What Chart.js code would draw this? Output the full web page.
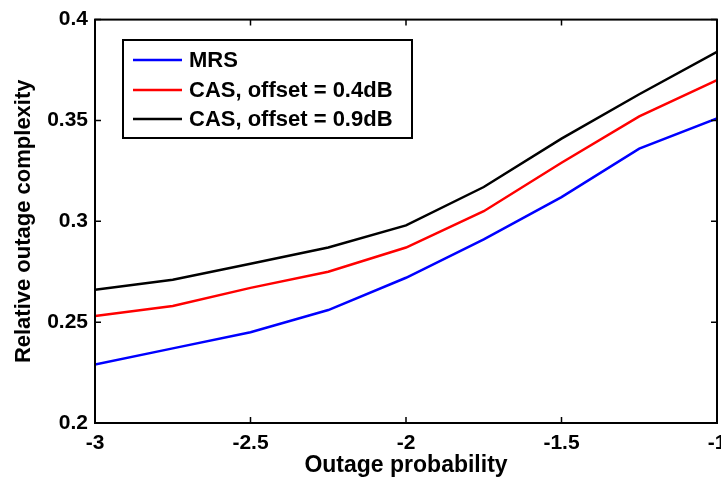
<!DOCTYPE html>
<html>
<head>
<meta charset="utf-8">
<script src="https://cdn.jsdelivr.net/npm/chart.js@4.4.1/dist/chart.umd.min.js"></script>
<style>
	html, body { margin: 0; padding: 0; background: #fff; }
	#wrap { width: 721px; height: 481px; }
</style>
</head>
<body>
<div id="wrap"><canvas id="outage-chart"></canvas></div>
<script>
const xValues = [-3, -2.75, -2.5, -2.25, -2, -1.75, -1.5, -1.25, -1]
const mrs = [0.229, 0.237, 0.245, 0.256, 0.272, 0.291, 0.312, 0.336, 0.351]
const cas04 = [0.253, 0.258, 0.267, 0.275, 0.287, 0.305, 0.329, 0.352, 0.370]
const cas09 = [0.266, 0.271, 0.279, 0.287, 0.298, 0.317, 0.341, 0.363, 0.384]
const seriesNames = ['MRS', 'CAS, offset = 0.4dB', 'CAS, offset = 0.9dB']
const seriesColors = ['#0000ff', '#ff0000', '#000000']
const xTicks = [-3, -2.5, -2, -1.5, -1]
const yTicks = [0.2, 0.25, 0.3, 0.35, 0.4]

const FONT = "'Liberation Sans', Arial, sans-serif"

const toPoints = (ys) => ys.map((y, i) => ({ x: xValues[i], y: y }))

// box round the plot with inward ticks on all four sides
const framePlugin = {
	id: 'frame',
	afterDraw(chart) {
		const { ctx, chartArea: a, scales } = chart
		const len = 6
		ctx.save()
		ctx.strokeStyle = '#000'
		ctx.lineWidth = 2
		ctx.strokeRect(a.left, a.top, a.right - a.left, a.bottom - a.top)
		ctx.lineWidth = 1.5
		ctx.beginPath()
		xTicks.forEach((v) => {
			const px = scales.x.getPixelForValue(v)
			ctx.moveTo(px, a.bottom); ctx.lineTo(px, a.bottom - len)
			ctx.moveTo(px, a.top); ctx.lineTo(px, a.top + len)
		})
		yTicks.forEach((v) => {
			const py = scales.y.getPixelForValue(v)
			ctx.moveTo(a.left, py); ctx.lineTo(a.left + len, py)
			ctx.moveTo(a.right, py); ctx.lineTo(a.right - len, py)
		})
		ctx.stroke()
		ctx.restore()
	}
}

// legend box inside the plot, top left
const boxLegend = {
	id: 'boxLegend',
	afterDraw(chart) {
		const ctx = chart.ctx
		const x0 = 123, y0 = 40, w = 289, h = 98
		const rows = [60, 90, 119]
		ctx.save()
		ctx.fillStyle = '#fff'
		ctx.fillRect(x0, y0, w, h)
		ctx.strokeStyle = '#000'
		ctx.lineWidth = 2
		ctx.strokeRect(x0, y0, w, h)
		chart.data.datasets.forEach((ds, i) => {
			ctx.strokeStyle = ds.borderColor
			ctx.lineWidth = 2.5
			ctx.beginPath()
			ctx.moveTo(133, rows[i]); ctx.lineTo(182, rows[i])
			ctx.stroke()
			ctx.fillStyle = '#000'
			ctx.font = 'bold 22px ' + FONT
			ctx.textBaseline = 'middle'
			ctx.textAlign = 'left'
			ctx.fillText(ds.label, 189, rows[i] + 1)
		})
		ctx.restore()
	}
}

new Chart('outage-chart', {
	type: 'line',
	data: {
		datasets: seriesNames.map((name, i) => ({
			label: name,
			data: toPoints([mrs, cas04, cas09][i]),
			borderColor: seriesColors[i],
			backgroundColor: seriesColors[i],
			borderWidth: 2.5,
			pointRadius: 0,
			tension: 0,
			fill: false
		}))
	},
	options: {
		responsive: true,
		maintainAspectRatio: false,
		animation: false,
		layout: { padding: { top: 15, right: 4, left: 0, bottom: 0 } },
		plugins: {
			legend: { display: false },
			tooltip: { enabled: false }
		},
		scales: {
			x: {
				type: 'linear',
				min: -3,
				max: -1,
				afterBuildTicks: (s) => { s.ticks = xTicks.map((v) => ({ value: v })) },
				afterFit: (s) => { s.height = 58; s.paddingLeft = 0; s.paddingRight = 0 },
				grid: { display: false, drawTicks: false },
				border: { display: false },
				ticks: {
					color: '#000',
					padding: 8,
					maxRotation: 0,
					font: { family: FONT, size: 21, weight: 'bold' },
					callback: (v) => String(v)
				},
				title: {
					display: true,
					text: 'Outage probability',
					color: '#000',
					padding: { top: 0, bottom: 2 },
					font: { family: FONT, size: 23, weight: 'bold' }
				}
			},
			y: {
				min: 0.2,
				max: 0.4,
				afterBuildTicks: (s) => { s.ticks = yTicks.map((v) => ({ value: v })) },
				afterFit: (s) => { s.width = 95 },
				grid: { display: false, drawTicks: false },
				border: { display: false },
				ticks: {
					color: '#000',
					padding: 7,
					font: { family: FONT, size: 21, weight: 'bold' },
					callback: (v) => String(v)
				},
				title: {
					display: true,
					text: 'Relative outage complexity',
					color: '#000',
					padding: { top: 11, bottom: 0 },
					font: { family: FONT, size: 22, weight: 'bold' }
				}
			}
		}
	},
	plugins: [framePlugin, boxLegend]
})
</script>
</body>
</html>
